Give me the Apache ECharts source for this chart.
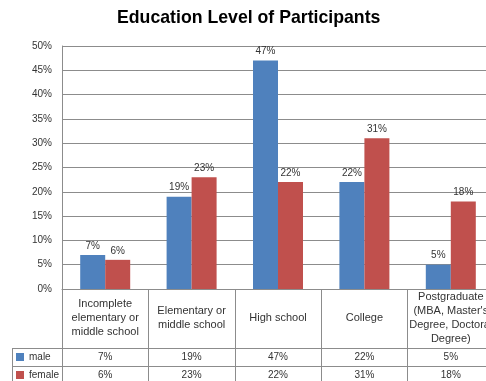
<!DOCTYPE html>
<html>
<head>
<meta charset="utf-8">
<script src="https://cdn.jsdelivr.net/npm/echarts@6/dist/echarts.min.js"></script>
<style>html,body{margin:0;padding:0;background:#fff}#c{width:486px;height:381px}</style>
</head>
<body>
<div id="c"></div>
<script>
const categories = ['Incomplete\nelementary or\nmiddle school', 'Elementary or\nmiddle school', 'High school', 'College', "Postgraduate\n(MBA, Master's\nDegree, Doctoral\nDegree)"];
const seriesNames = ['male', 'female'];
const male = [7, 19, 47, 22, 5];
const female = [6, 23, 22, 31, 18];
const yMin = 0, yMax = 50, yStep = 5;

const FONT = '"Liberation Sans", Arial, sans-serif';
const LINE = '#8c8c8c';
const TXT = '#333';
const pct = v => v + '%';

const chart = echarts.init(document.getElementById('c'), null, {renderer: 'canvas'});
chart.setOption({
  animation: false,
  backgroundColor: '#fff',
  textStyle: {fontFamily: FONT},
  title: {
    text: 'Education Level of Participants',
    left: 117, top: 9, padding: 0,
    textStyle: {fontFamily: FONT, fontSize: 17.7, fontWeight: 'bold', color: '#000'}
  },
  legend: {
    data: seriesNames,
    orient: 'vertical', left: 16, top: 352, padding: 0,
    itemWidth: 8, itemHeight: 8, itemGap: 8, icon: 'rect',
    textStyle: {fontFamily: FONT, fontSize: 10, color: TXT}
  },
  grid: {left: 62, top: 46, bottom: 92, right: -8, containLabel: false, outerBoundsMode: 'none'},
  yAxis: {
    type: 'value', min: yMin, max: yMax, interval: yStep,
    axisLine: {show: true, lineStyle: {color: LINE}},
    axisTick: {show: false},
    splitLine: {show: true, lineStyle: {color: LINE}},
    axisLabel: {formatter: v => v + '%', fontSize: 10, color: TXT, margin: 10, fontFamily: FONT}
  },
  xAxis: [
    {
      type: 'category', data: categories, position: 'bottom',
      axisLine: {show: true, lineStyle: {color: LINE}},
      axisTick: {show: true, length: 92, interval: 0, lineStyle: {color: LINE}},
      axisLabel: {interval: 0, margin: 29, verticalAlign: 'middle', lineHeight: 14, fontSize: 11, color: TXT, fontFamily: FONT, hideOverlap: false}
    },
    {
      type: 'category', data: categories, position: 'bottom', offset: 59,
      axisLine: {show: true, lineStyle: {color: LINE}},
      axisTick: {show: false},
      axisLabel: {interval: 0, margin: 9, verticalAlign: 'middle', fontSize: 10, color: TXT, fontFamily: FONT, formatter: (v, i) => pct(male[i])}
    },
    {
      type: 'category', data: categories, position: 'bottom', offset: 77,
      axisLine: {show: true, lineStyle: {color: LINE}},
      axisTick: {show: false},
      axisLabel: {interval: 0, margin: 9, verticalAlign: 'middle', fontSize: 10, color: TXT, fontFamily: FONT, formatter: (v, i) => pct(female[i])}
    }
  ],
  series: [
    {
      name: seriesNames[0], type: 'bar', data: male, xAxisIndex: 0,
      barWidth: 25, barGap: '0%',
      itemStyle: {color: '#4F81BD'},
      label: {show: true, position: 'top', distance: 4, formatter: p => pct(p.value), fontSize: 10, color: TXT, fontFamily: FONT}
    },
    {
      name: seriesNames[1], type: 'bar', data: female, xAxisIndex: 0,
      barWidth: 25, barGap: '0%',
      itemStyle: {color: '#C0504D'},
      label: {show: true, position: 'top', distance: 4, formatter: p => pct(p.value), fontSize: 10, color: TXT, fontFamily: FONT}
    }
  ],
  graphic: [
    {type: 'line', shape: {x1: 12, y1: 348.5, x2: 62, y2: 348.5}, style: {stroke: LINE, lineWidth: 1}, silent: true},
    {type: 'line', shape: {x1: 12, y1: 366.5, x2: 62, y2: 366.5}, style: {stroke: LINE, lineWidth: 1}, silent: true},
    {type: 'line', shape: {x1: 12.5, y1: 348, x2: 12.5, y2: 381}, style: {stroke: LINE, lineWidth: 1}, silent: true}
  ]
});
</script>
</body>
</html>
